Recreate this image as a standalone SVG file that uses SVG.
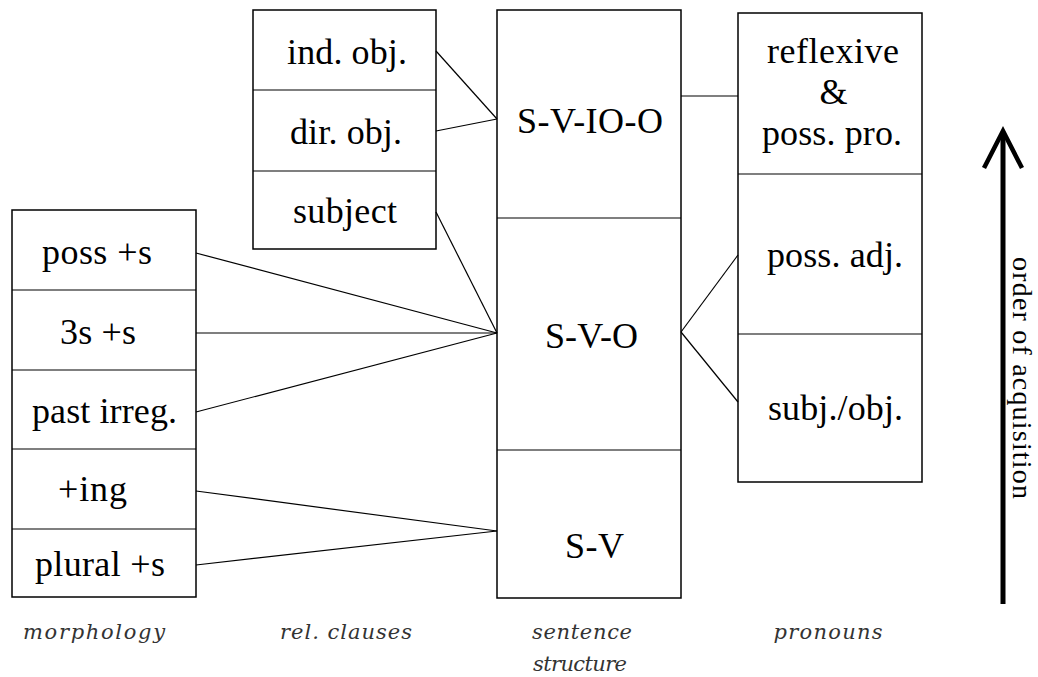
<svg xmlns="http://www.w3.org/2000/svg" width="1038" height="677" viewBox="0 0 1038 677">
<style>
.box{fill:#fff;stroke:#000;stroke-width:1.5}
.div{stroke:#000;stroke-width:1.2}
.t{font-family:"Liberation Serif","Times New Roman","DejaVu Serif",serif;font-size:36px;fill:#000;text-anchor:middle}
.lab{font-family:"DejaVu Serif","Liberation Serif",serif;font-style:italic;font-size:21px;fill:#333;text-anchor:middle}
.con line{stroke:#000;stroke-width:1.2}
</style>
<rect width="1038" height="677" fill="#fff"/>
<g id="morphology">
<rect class="box" x="12" y="210" width="184" height="387"/>
<line class="div" x1="12" y1="290" x2="196" y2="290"/>
<line class="div" x1="12" y1="370" x2="196" y2="370"/>
<line class="div" x1="12" y1="449" x2="196" y2="449"/>
<line class="div" x1="12" y1="529" x2="196" y2="529"/>
<text class="t" x="97" y="264" textLength="110">poss +s</text>
<text class="t" x="98" y="344" textLength="76">3s +s</text>
<text class="t" x="104.5" y="423" textLength="145">past irreg.</text>
<text class="t" x="92.5" y="501" textLength="69">+ing</text>
<text class="t" x="100" y="576" textLength="130">plural +s</text>
</g>
<g id="relclauses">
<rect class="box" x="253" y="10" width="183" height="239"/>
<line class="div" x1="253" y1="90" x2="436" y2="90"/>
<line class="div" x1="253" y1="171" x2="436" y2="171"/>
<text class="t" x="347" y="64" textLength="120">ind. obj.</text>
<text class="t" x="346" y="144" textLength="112">dir. obj.</text>
<text class="t" x="345" y="223" textLength="104">subject</text>
</g>
<g id="sentence">
<rect class="box" x="497" y="10" width="184" height="588"/>
<line class="div" x1="497" y1="218" x2="681" y2="218"/>
<line class="div" x1="497" y1="450" x2="681" y2="450"/>
<text class="t" x="590" y="133" textLength="146">S-V-IO-O</text>
<text class="t" x="591.5" y="348" textLength="93">S-V-O</text>
<text class="t" x="594.5" y="558" textLength="59">S-V</text>
</g>
<g id="pronouns">
<rect class="box" x="738" y="13" width="184" height="469"/>
<line class="div" x1="738" y1="174" x2="922" y2="174"/>
<line class="div" x1="738" y1="334" x2="922" y2="334"/>
<text class="t" x="833" y="63" textLength="132">reflexive</text>
<text class="t" x="833.5" y="104">&amp;</text>
<text class="t" x="832" y="145" textLength="140">poss. pro.</text>
<text class="t" x="835" y="267" textLength="136">poss. adj.</text>
<text class="t" x="835.5" y="420" textLength="135">subj./obj.</text>
</g>
<g id="connectors" class="con">
<line x1="436" y1="51" x2="497" y2="119"/>
<line x1="436" y1="131" x2="497" y2="119"/>
<line x1="436" y1="212" x2="497" y2="333"/>
<line x1="196" y1="253" x2="497" y2="333"/>
<line x1="196" y1="333" x2="497" y2="333"/>
<line x1="196" y1="412" x2="497" y2="333"/>
<line x1="196" y1="491" x2="497" y2="531"/>
<line x1="196" y1="565" x2="497" y2="531"/>
<line x1="681" y1="96" x2="738" y2="96"/>
<line x1="681" y1="332" x2="738" y2="255"/>
<line x1="681" y1="332" x2="738" y2="402"/>
</g>
<g id="acquisition">
<line x1="1003" y1="604" x2="1003" y2="133" stroke="#000" stroke-width="5"/>
<polyline points="984,168 1003,131 1022,168" fill="none" stroke="#000" stroke-width="4.5" stroke-linejoin="miter"/>
<text class="t" transform="translate(1013,378) rotate(90)" style="font-size:28px" textLength="242">order of acquisition</text>
</g>
<g id="labels">
<text class="lab" x="94" y="639" textLength="142">morphology</text>
<text class="lab" x="346" y="639" textLength="132">rel. clauses</text>
<text class="lab" x="582" y="639" textLength="100">sentence</text>
<text class="lab" x="580" y="671" textLength="94">structure</text>
<text class="lab" x="828" y="639" textLength="109">pronouns</text>
</g>
</svg>
